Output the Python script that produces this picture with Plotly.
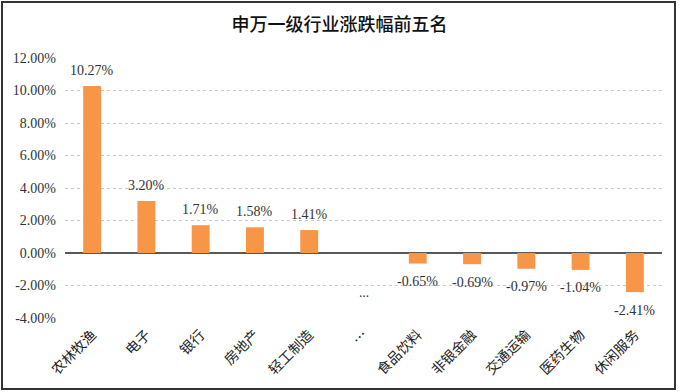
import plotly.graph_objects as go

categories = ["农林牧渔", "电子", "银行", "房地产", "轻工制造", "…", "食品饮料", "非银金融", "交通运输", "医药生物", "休闲服务"]
values = [10.27, 3.20, 1.71, 1.58, 1.41, None, -0.65, -0.69, -0.97, -1.04, -2.41]
tick_vals = [12, 10, 8, 6, 4, 2, 0, -2, -4]
tick_text = [f"{v:.2f}%" for v in tick_vals]
ellipsis_label = "…"
ellipsis_y = -2.4

W, H = 679, 392
L, R, T, B = 65, 17, 58, 74
pw, ph = W - L - R, H - T - B
num_font = "Liberation Serif, Noto Sans CJK SC"

fig = go.Figure()
fig.add_trace(go.Bar(
    x=categories, y=values,
    marker=dict(color="#F79646", line=dict(width=0)),
    width=0.33, cliponaxis=False,
))

for c, v in zip(categories, values):
    if v is None:
        continue
    fig.add_annotation(x=c, y=v, text=f"{v:.2f}%", showarrow=False,
                       yshift=16 if v >= 0 else -18,
                       font=dict(size=14, color="#333333", family=num_font))

fig.add_annotation(x=categories[5], y=ellipsis_y, text=ellipsis_label, showarrow=False,
                   font=dict(size=13, color="#333333"))

fig.add_shape(type="rect", xref="paper", yref="paper",
              x0=-(L - 2) / pw, x1=1 + (R - 4) / pw, y0=-(B - 3) / ph, y1=1 + (T - 2) / ph,
              line=dict(color="#333333", width=2), fillcolor="rgba(0,0,0,0)")

fig.update_layout(
    width=W, height=H,
    margin=dict(l=L, r=R, t=T, b=B),
    paper_bgcolor="white", plot_bgcolor="white",
    showlegend=False,
    title=dict(text="申万一级行业涨跌幅前五名", x=0.5, xanchor="center", y=1 - 25 / H, yanchor="middle",
               font=dict(size=18, color="#111111", family="Noto Sans CJK SC", weight=500)),
)
fig.update_yaxes(range=[-4, 12], tickvals=tick_vals, ticktext=tick_text,
                 showgrid=True, gridcolor="#C8C8C8", griddash="dot", gridwidth=1,
                 zeroline=True, zerolinecolor="#595959", zerolinewidth=1.5,
                 tickfont=dict(size=14, color="#333333", family=num_font),
                 ticks="", showline=False, ticklabelstandoff=8)
fig.update_xaxes(tickangle=-45, showgrid=False, showline=False, ticks="",
                 tickfont=dict(size=14, color="#222222", family="Noto Sans CJK SC"),
                 ticklabelstandoff=5)

fig.write_html("out.html", post_script="document.body.style.margin='0';",
               config={"displayModeBar": False})
